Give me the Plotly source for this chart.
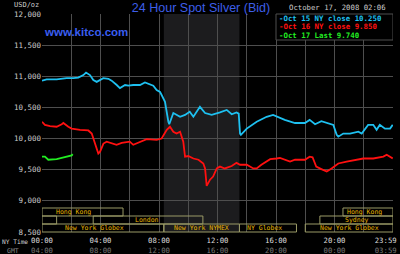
import plotly.graph_objects as go

# ---------------- data ----------------
oct15_t = [0, 0.32, 1.0, 1.69, 2.14, 2.48, 2.83, 3.01, 3.28, 3.51, 3.74, 3.97, 4.19, 4.54, 4.76,
           5.11, 5.33, 5.68, 5.90, 6.24, 6.70, 7.04, 7.27, 7.61, 7.84, 8.07, 8.18, 8.41, 8.64,
           8.70, 8.98, 9.2, 9.44, 9.78, 10.1, 10.35, 10.6, 10.8, 11.15, 11.6, 12.17, 12.63, 12.97,
           13.3, 13.45, 13.54, 13.6, 14.0, 14.68, 15.36, 15.8, 16.27, 16.6, 17.3, 17.98, 18.3,
           18.67, 19.1, 19.58, 19.92, 20.15, 20.26, 20.6, 21.06, 21.63, 21.86, 22.3, 22.65, 22.88,
           23.1, 23.45, 23.8, 23.98]
oct15_v = [10.93, 10.95, 10.95, 10.97, 10.97, 10.98, 11.02, 11.06, 11.02, 10.94, 10.91, 10.94,
           10.97, 10.96, 10.93, 10.86, 10.81, 10.86, 10.85, 10.86, 10.86, 10.90, 10.88, 10.85,
           10.78, 10.75, 10.70, 10.59, 10.27, 10.23, 10.41, 10.38, 10.35, 10.38, 10.43, 10.35,
           10.45, 10.51, 10.41, 10.38, 10.42, 10.46, 10.39, 10.42, 10.40, 10.08, 10.06, 10.16,
           10.27, 10.35, 10.38, 10.33, 10.30, 10.25, 10.25, 10.30, 10.23, 10.28, 10.25, 10.22,
           10.06, 10.03, 10.08, 10.08, 10.11, 10.08, 10.22, 10.22, 10.14, 10.22, 10.16, 10.16,
           10.22]

oct16_t = [0, 0.2, 0.55, 1.0, 1.35, 1.46, 1.8, 2.03, 2.6, 3.17, 3.4, 3.62, 3.85, 3.97, 4.2, 4.42,
           4.77, 5.1, 5.45, 6.0, 6.24, 6.7, 7.16, 7.84, 8.18, 8.53, 8.75, 8.98, 9.2, 9.44, 9.66,
           9.78, 10.0, 10.35, 10.7, 11.03, 11.15, 11.26, 11.49, 11.7, 11.95, 12.17, 12.5, 12.97,
           13.3, 13.54, 14.0, 14.45, 14.68, 15.0, 15.6, 16.05, 16.27, 16.96, 17.3, 17.98, 18.3,
           18.5, 18.75, 19.1, 19.47, 19.8, 20.26, 20.83, 21.28, 21.97, 22.65, 23.34, 23.57, 23.98]
oct16_v = [10.27, 10.22, 10.20, 10.19, 10.23, 10.25, 10.19, 10.16, 10.14, 10.13, 10.08, 9.92,
           9.76, 9.79, 9.92, 9.95, 9.93, 9.90, 9.93, 9.95, 9.90, 9.95, 9.99, 9.98, 10.00, 10.14,
           10.19, 10.11, 10.08, 10.11, 9.95, 9.71, 9.72, 9.68, 9.66, 9.60, 9.52, 9.24, 9.34, 9.39,
           9.52, 9.55, 9.52, 9.56, 9.61, 9.58, 9.58, 9.52, 9.52, 9.58, 9.67, 9.68, 9.69, 9.63,
           9.66, 9.66, 9.71, 9.70, 9.55, 9.51, 9.47, 9.52, 9.60, 9.63, 9.65, 9.68, 9.68, 9.71,
           9.74, 9.68]

oct17_t = [0, 0.2, 0.43, 0.66, 1.0, 1.35, 1.69, 2.03, 2.1]
oct17_v = [9.71, 9.71, 9.66, 9.66, 9.67, 9.69, 9.71, 9.73, 9.75]

legend_labels = ["Oct 15 NY close 10.250", "Oct 16 NY close 9.850", "Oct 17 Last 9.740"]

y_ticks = [8.5, 9.0, 9.5, 10.0, 10.5, 11.0, 11.5, 12.0]
y_tick_labels = ["8,500", "9,000", "9,500", "10,000", "10,500", "11,000", "11,500", "12,000"]

grid_hours = [0, 2, 4, 6, 8, 10, 12, 14, 16, 18, 20, 22, 24]
label_hours = [0, 4, 8, 12, 16, 20, 23.5]
ny_labels = ["00:00", "04:00", "08:00", "12:00", "16:00", "20:00", "23:59"]
gmt_labels = ["04:00", "08:00", "12:00", "16:00", "20:00", "00:00", "03:59"]

# trading sessions: row (1 = top), start hour, end hour, label, label centre hour
sess_row = [1, 1, 2, 2, 2, 3, 3, 3, 3]
sess_start = [0, 20.58, 0, 3.5, 19.0, 0, 8.33, 13.5, 18.0]
sess_end = [5.54, 24, 1.0, 11.0, 24, 8.33, 13.5, 17.4, 24]
sess_label = ["Hong Kong", "Hong Kong", "", "London", "Sydney",
              "New York Globex", "New York NYMEX", "NY Globex", "New York Globex"]
sess_label_x = [2.12, 22.06, 0.5, 7.18, 21.54, 3.62, 10.92, 15.21, 21.0]

nymex_start, nymex_end = 8.33, 13.5

# ---------------- style ----------------
BG = "#000000"
GRID = "#4e4e4e"
MONO = "DejaVu Sans Mono"
CYAN = "#1ec0f0"
RED = "#ff1010"
GREEN = "#22ee22"
SESS_LINE = "#9a9a66"
SESS_TEXT = "#e8b400"

fig = go.Figure()
for t, v, c, xa in [(oct15_t, oct15_v, CYAN, "x"), (oct16_t, oct16_v, RED, "x"),
                    (oct17_t, oct17_v, GREEN, "x2")]:
    fig.add_trace(go.Scatter(x=t, y=v, mode="lines", line=dict(color=c, width=1.8),
                             xaxis=xa, yaxis="y", showlegend=False, hoverinfo="skip"))

# NYMEX shaded period
fig.add_shape(type="rect", xref="x", yref="paper", x0=nymex_start, x1=nymex_end, y0=0, y1=1,
              fillcolor="#1c1c1e", line=dict(width=0), layer="below")

# session boxes
row_h = 8 / 218.0
for r, s, e, lab, lx in zip(sess_row, sess_start, sess_end, sess_label, sess_label_x):
    y1 = (3 - r + 1) * row_h
    y0 = (3 - r) * row_h
    fig.add_shape(type="rect", xref="x", yref="paper", x0=s, x1=e, y0=y0, y1=y1,
                  line=dict(color=SESS_LINE, width=1), fillcolor="rgba(0,0,0,0)", layer="above")
    if lab:
        fig.add_annotation(x=lx, y=(y0 + y1) / 2, xref="x", yref="paper", text=lab,
                           showarrow=False, font=dict(family=MONO, size=6.5, color=SESS_TEXT),
                           xanchor="center", yanchor="middle", borderpad=0)

# legend box
fig.add_shape(type="rect", xref="x", yref="paper", x0=16, x1=24, y0=(232 - 40) / 218.0, y1=1,
              fillcolor=BG, line=dict(color=GRID, width=1), layer="above")
leg_y = [18, 26.5, 35]
for lab, c, yy in zip(legend_labels, [CYAN, RED, GREEN], leg_y):
    fig.add_annotation(x=(278 - 42) / 351.0, y=1 - (yy - 14) / 218.0, xref="paper", yref="paper",
                       text="<b>-" + lab + "</b>", showarrow=False, xanchor="left", yanchor="middle",
                       font=dict(family=MONO, size=7.4, color=c), borderpad=0)

# texts
fig.add_annotation(x=(337 - 42) / 351.0, y=1 + 6.5 / 218.0, xref="paper", yref="paper",
                   text="October 17, 2008 02:06", showarrow=False, xanchor="center", yanchor="middle",
                   font=dict(family=MONO, size=7.3, color="#cccccc"), borderpad=0)
fig.add_annotation(x=(43 - 42) / 351.0, y=1 - 18 / 218.0, xref="paper", yref="paper",
                   text="<b>www.kitco.com</b>", showarrow=False, xanchor="left", yanchor="middle",
                   font=dict(family="Liberation Sans", size=11.5, color="#3a5ef0"), borderpad=0)
fig.add_annotation(x=(40 - 42) / 351.0, y=1 + 9 / 218.0, xref="paper", yref="paper",
                   text="USD/oz", showarrow=False, xanchor="right", yanchor="middle",
                   font=dict(family=MONO, size=7.0, color="#cccccc"), borderpad=0)
fig.add_annotation(x=(1 - 42) / 351.0, y=-9.5 / 218.0, xref="paper", yref="paper",
                   text="NY Time", showarrow=False, xanchor="left", yanchor="middle",
                   font=dict(family=MONO, size=6.2, color="#cccccc"), borderpad=0)
fig.add_annotation(x=(12.5 - 42) / 351.0, y=-18.5 / 218.0, xref="paper", yref="paper",
                   text="GMT", showarrow=False, xanchor="center", yanchor="middle",
                   font=dict(family=MONO, size=6.5, color="#888888"), borderpad=0)

tick_text = [a + "<br><span style='color:#777777'>" + b + "</span>"
             for a, b in zip(ny_labels, gmt_labels)]

fig.update_layout(
    width=400, height=254,
    margin=dict(l=42, r=7, t=14, b=22, autoexpand=False),
    paper_bgcolor=BG, plot_bgcolor=BG,
    title=dict(text="24 Hour Spot Silver (Bid)", x=201 / 400.0, xanchor="center",
               y=1 - 8 / 254.0, yanchor="middle", automargin=False,
               font=dict(family="Liberation Sans", size=12.5, color="#3d5ee8")),
    xaxis=dict(range=[0, 24], tickmode="array", tickvals=grid_hours, showticklabels=False,
               showgrid=True, gridcolor=GRID, gridwidth=1, zeroline=False, showline=False,
               ticks="", fixedrange=True, automargin=False),
    xaxis2=dict(range=[0, 24], overlaying="x", anchor="y", side="bottom",
                tickmode="array", tickvals=label_hours, ticktext=tick_text,
                showgrid=False, zeroline=False, showline=False, ticks="",
                ticklabelstandoff=3, ticklabeloverflow="allow", automargin=False,
                tickfont=dict(family=MONO, size=7.3, color="#dddddd"), fixedrange=True),
    yaxis=dict(range=[8.5, 12.0], tickmode="array", tickvals=y_ticks, ticktext=y_tick_labels,
               showgrid=True, gridcolor=GRID, gridwidth=1, zeroline=False, showline=False,
               ticks="", automargin=False,
               tickfont=dict(family=MONO, size=7.5, color="#cccccc"), fixedrange=True),
    showlegend=False,
)

fig.write_html("out.html")
